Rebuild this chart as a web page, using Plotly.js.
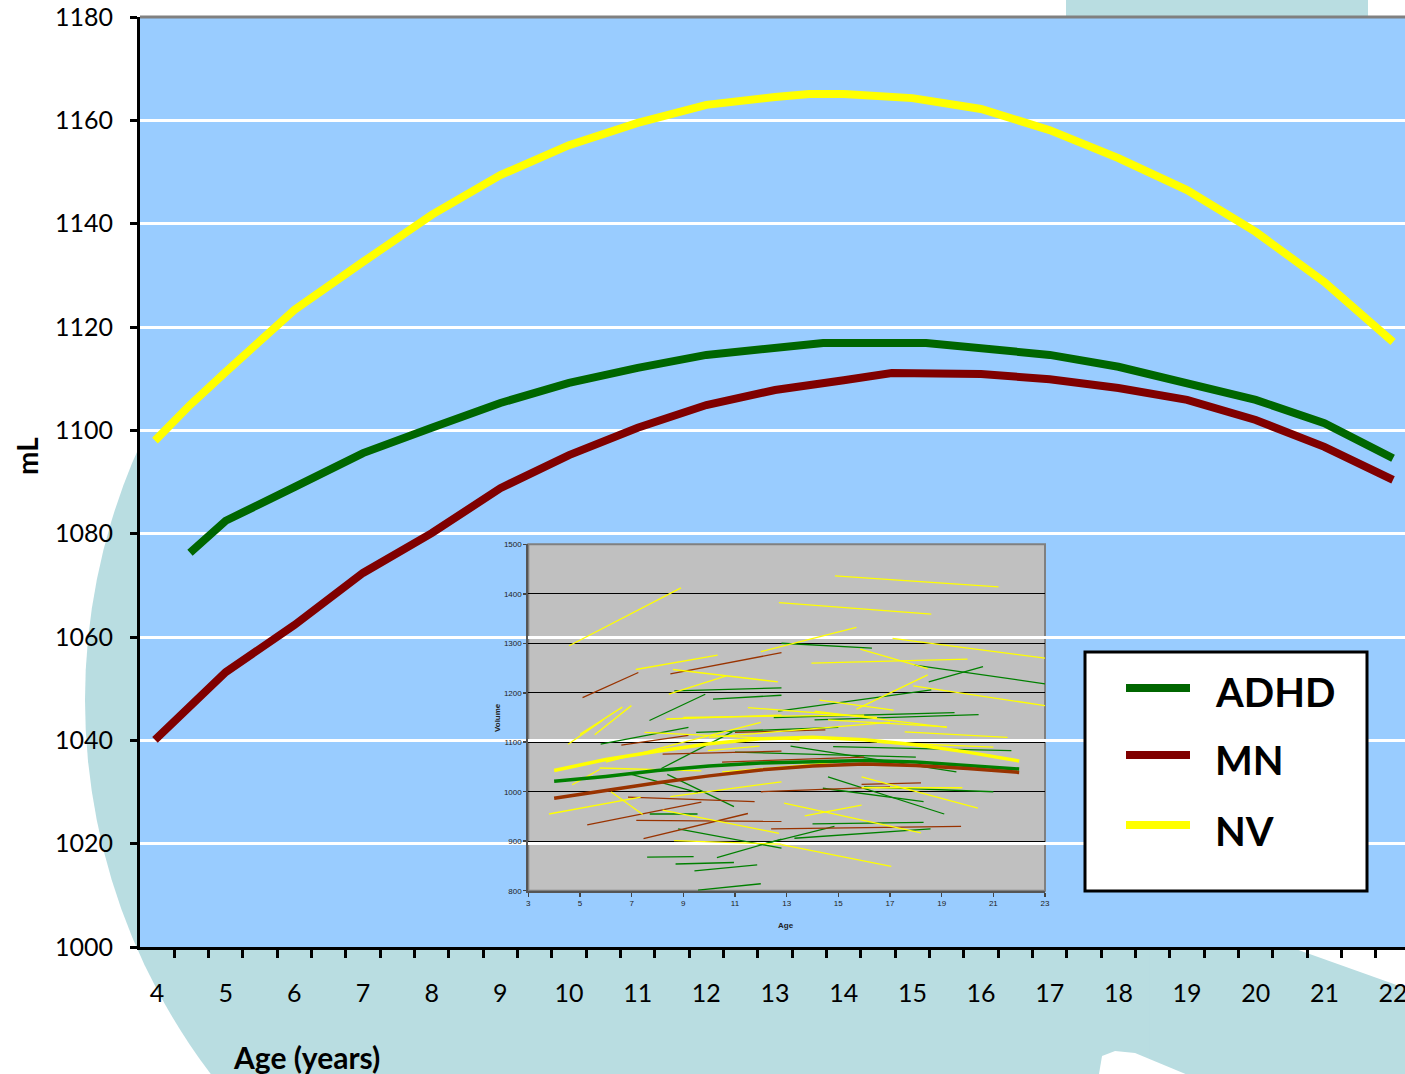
<!DOCTYPE html>
<html><head><meta charset="utf-8">
<script src="https://cdn.plot.ly/plotly-3.0.1.min.js"></script>
<style>html,body{margin:0;padding:0;overflow:hidden;background:#fff}#chart{width:1405px;height:1074px}</style>
</head><body><div id="chart"></div>
<script>
// ---- main chart data (mL by age) ----
const agesNV = [3.97, 4.48, 5, 6, 7, 8, 9, 10, 11, 12, 13, 13.5, 14, 15, 16, 17, 18, 19, 20, 21, 22];
const valsNV = [1098, 1104.9, 1111.3, 1123.3, 1132.6, 1141.7, 1149.4, 1155.2, 1159.5, 1163.0, 1164.5, 1165.1, 1165.1, 1164.3, 1162.2, 1158.1, 1152.7, 1146.5, 1138.4, 1128.7, 1117.1];
const agesADHD = [4.48, 5, 6, 7, 8, 9, 10, 11, 12, 13, 13.7, 15.2, 16, 17, 18, 19, 20, 21, 22];
const valsADHD = [1076.3, 1082.5, 1089.0, 1095.6, 1100.5, 1105.3, 1109.2, 1112.1, 1114.6, 1115.9, 1116.9, 1116.9, 1115.9, 1114.6, 1112.3, 1109.2, 1105.9, 1101.4, 1094.6];
const agesMN = [3.97, 4.48, 5, 6, 7, 8, 9, 10, 11, 12, 13, 14, 14.7, 16, 17, 18, 19, 20, 21, 22];
const valsMN = [1040.1, 1046.5, 1053.2, 1062.3, 1072.4, 1080.1, 1088.8, 1095.2, 1100.5, 1104.9, 1107.8, 1109.7, 1111.1, 1110.9, 1109.9, 1108.2, 1105.9, 1102.0, 1096.8, 1090.4];
const xTickVals = [4,5,6,7,8,9,10,11,12,13,14,15,16,17,18,19,20,21,22];
const yTickVals = [1000,1020,1040,1060,1080,1100,1120,1140,1160,1180];
const legendNames = ['ADHD','MN','NV'];

// ---- inset chart data ----
const insetAges = [4, 6, 8, 10, 12, 14, 16, 18, 20, 22];
const insetNV   = [1043, 1065, 1082, 1097, 1107, 1110, 1105, 1095, 1080, 1062];
const insetADHD = [1021, 1031, 1043, 1052, 1058, 1061, 1063, 1060, 1053, 1046];
const insetMN   = [987, 1003, 1018, 1032, 1044, 1052, 1056, 1053, 1047, 1039];
const segGroup = ['NV','MN','NV','MN','NV','NV','ADHD','ADHD','ADHD','NV','NV','NV','NV','NV','NV','ADHD','NV','ADHD','ADHD','NV','NV','NV','NV','ADHD','ADHD','NV','NV','NV','MN','NV','MN','ADHD','MN','ADHD','ADHD','ADHD','ADHD','ADHD','NV','ADHD','NV','MN','ADHD','ADHD','NV','NV','NV','ADHD','NV','ADHD','MN','MN','NV','ADHD','NV','ADHD','MN','ADHD','NV','NV','ADHD','NV','ADHD','NV','MN','ADHD','ADHD','NV','NV','NV','NV','ADHD','NV','ADHD','MN','NV','ADHD','NV','MN','ADHD','NV','NV','ADHD','MN'];
const segAge0 = [4.58,5.10,7.16,8.50,8.60,8.44,7.69,8.65,10.15,5.0,5.57,8.34,14.87,12.7,12.0,12.8,17.1,17.95,18.5,17.9,15.7,13.96,15.85,12.67,14.08,14.08,14.27,3.8,5.28,6.2,7.46,7.7,7.18,7.6,8.7,9.43,9.57,10.3,8.64,8.8,8.2,6.86,6.99,8.38,5.76,4.7,8.5,8.15,4.54,5.8,6.6,8.2,9.95,12.0,12.8,14.0,12.4,13.3,13.7,12.9,14.6,15.9,14.4,15.9,15.9,13.15,14.8,17.57,14.6,6.0,9.0,9.5,10.0,11.0,10.5,11.5,12.5,7.5,12.0,16.0,10.5,16.5,13.0,11.0];
const segVol0 = [1295,1190,1247,1238,1247,1197,1144,1204,1187,1116,1115,1147,1436,1382,1283,1300,1310,1256,1222,1214,1167,1260,1288,1163,1145,1163,1185,955,933,1000,905,955,942,868,854,840,801,867,901,925,963,989,1035,1035,1048,1014,990,1047,1096,1096,1094,1076,1083,893,893,935,925,906,951,977,1030,1030,1007,1008,1015,1092,1091,1121,1145,1060,1150,1120,1110,1080,1060,1170,1150,1120,1000,1010,1040,1100,1050,1120];
const segAge1 = [8.91,7.26,10.33,12.80,12.66,10.66,9.85,12.8,12.8,6.64,6.99,12.8,21.2,18.6,15.7,16.3,23.0,23.0,20.6,23.0,18.46,20.0,18.46,18.6,20.43,19.2,17.14,7.35,9.7,7.43,11.5,9.55,12.8,9.4,10.96,11.86,12.0,12.8,12.8,12.8,12.7,11.76,9.57,10.96,9.7,5.76,12.8,10.9,5.9,9.2,9.2,12.8,11.95,14.85,17.05,18.3,19.75,18.57,15.9,18.2,19.1,20.4,18.3,19.8,18.2,19.57,21.7,21.55,19.2,12.0,16.0,15.0,17.0,18.0,16.0,16.5,19.5,13.5,17.0,21.0,15.0,21.0,17.5,14.5];
const segVol1 = [1412,1241,1276,1281,1222,1234,1197,1210,1195,1171,1174,1155,1414,1359,1332,1290,1270,1218,1253,1174,1236,1268,1249,1206,1156,1130,1165,989,979,954,956,955,940,869,857,852,814,904,894,886,916,980,998,970,1042,1045,1020,1121,1145,1130,1114,1082,1092,930,849,938,930,925,973,917,955,967,980,1008,1018,1040,1083,1110,1131,1140,1155,1130,1140,1070,1070,1150,1160,1105,1010,1000,1060,1090,1060,1125];
const insetXTicks = [3,5,7,9,11,13,15,17,19,21,23];
const insetYTicks = [800,900,1000,1100,1200,1300,1400,1500];

const COL = {ADHD:'#006600', MN:'#800000', NV:'#FFFF00'};
const ICOL = {ADHD:'#008000', MN:'#993300', NV:'#FFFF00'};

function segTrace(g){
  const x=[], y=[];
  for(let i=0;i<segGroup.length;i++){
    if(segGroup[i]!==g) continue;
    x.push(segAge0[i], segAge1[i], null);
    y.push(segVol0[i], segVol1[i], null);
  }
  return {x, y, xaxis:'x2', yaxis:'y2', type:'scatter', mode:'lines', line:{color:ICOL[g], width:1.3}, showlegend:false, hoverinfo:'skip', connectgaps:false};
}

const traces = [
  segTrace('ADHD'), segTrace('MN'), segTrace('NV'),
  {x:insetAges, y:insetNV, xaxis:'x2', yaxis:'y2', mode:'lines', line:{color:ICOL.NV, width:3.5}, showlegend:false},
  {x:insetAges, y:insetADHD, xaxis:'x2', yaxis:'y2', mode:'lines', line:{color:ICOL.ADHD, width:3.5}, showlegend:false},
  {x:insetAges, y:insetMN, xaxis:'x2', yaxis:'y2', mode:'lines', line:{color:ICOL.MN, width:3.5}, showlegend:false},
  {x:agesNV, y:valsNV, name:'NV', mode:'lines', line:{color:COL.NV, width:8}},
  {x:agesADHD, y:valsADHD, name:'ADHD', mode:'lines', line:{color:COL.ADHD, width:8}},
  {x:agesMN, y:valsMN, name:'MN', mode:'lines', line:{color:COL.MN, width:8}}
];

// pixel -> paper helpers for decoration placement
const L=140, R=1405, T=17, B=947;
const px = v => (v-L)/(R-L);
const py = v => (B-v)/(B-T);
const path = pts => 'M' + pts.map(p => px(p[0]).toFixed(4)+','+py(p[1]).toFixed(4)).join(' L') + ' Z';

const TEAL = '#B9DDE1';
const shapes = [
  {type:'circle', xref:'paper', yref:'paper', x0:px(85), x1:px(1323), y0:py(1319), y1:py(81), fillcolor:TEAL, line:{width:0}, layer:'below'},
  {type:'path', xref:'paper', yref:'paper', path:path([[1150,947],[1290,947],[1405,988],[1410,1080],[1150,1080]]), fillcolor:TEAL, line:{width:0}, layer:'below'},
  {type:'path', xref:'paper', yref:'paper', path:path([[1098,1080],[1102,1056],[1115,1051],[1135,1053],[1200,1080]]), fillcolor:'#FFFFFF', line:{width:0}, layer:'below'},
  {type:'rect', xref:'paper', yref:'paper', x0:px(1066), x1:px(1368), y0:py(20), y1:py(-5), fillcolor:TEAL, line:{width:0}, layer:'below'},
  {type:'rect', xref:'paper', yref:'paper', x0:0, x1:1.01, y0:0, y1:1, fillcolor:'#99CCFF', line:{width:0}, layer:'below'},
  {type:'rect', xref:'x2 domain', yref:'y2 domain', x0:0, x1:1, y0:0, y1:1, fillcolor:'#C0C0C0', line:{color:'#808080', width:2}, layer:'below'},
  {type:'line', xref:'paper', yref:'paper', x0:0, x1:1.01, y0:1, y1:1, line:{color:'#808080', width:3}, layer:'above'},
  // legend box
  {type:'rect', xref:'paper', yref:'paper', x0:px(1085), x1:px(1367), y0:py(891), y1:py(652), fillcolor:'#FFFFFF', line:{color:'#000', width:3}, layer:'above'}
];
const legendRowsY = [688, 755, 825];
const legendTextY = [692, 760, 831];
const annotations = [
  {text:'<b>mL</b>', xref:'paper', yref:'paper', x:px(27), y:py(456), xanchor:'center', yanchor:'middle', textangle:-90, showarrow:false, font:{family:'Lato, sans-serif', size:28, color:'#000'}},
  {text:'<b>Age (years)</b>', xref:'paper', yref:'paper', x:px(306), y:py(1057), xanchor:'center', yanchor:'middle', showarrow:false, font:{family:'Lato, sans-serif', size:30, color:'#000'}},
  {text:'<b>Volume</b>', xref:'paper', yref:'paper', x:px(497), y:py(718), xanchor:'center', yanchor:'middle', textangle:-90, showarrow:false, font:{family:'Liberation Sans, Arial, sans-serif', size:8, color:'#222'}},
  {text:'<b>Age</b>', xref:'paper', yref:'paper', x:px(786), y:py(925), xanchor:'center', yanchor:'middle', showarrow:false, font:{family:'Liberation Sans, Arial, sans-serif', size:8, color:'#222'}}
];
legendNames.forEach((n,i)=>{
  shapes.push({type:'line', xref:'paper', yref:'paper', x0:px(1126), x1:px(1190), y0:py(legendRowsY[i]), y1:py(legendRowsY[i]), line:{color:COL[n], width:8}, layer:'above'});
  annotations.push({text:'<b>'+n+'</b>', xref:'paper', yref:'paper', x:px(1213), y:py(legendTextY[i]), xanchor:'left', yanchor:'middle', showarrow:false, font:{family:'Lato, sans-serif', size:40, color:'#000'}});
});

const layout = {
  width:1405, height:1074,
  margin:{l:L, r:0, t:T, b:1074-B, pad:0},
  paper_bgcolor:'#FFFFFF', plot_bgcolor:'rgba(0,0,0,0)',
  showlegend:false,
  font:{family:'Lato, sans-serif', color:'#000'},
  xaxis:{range:[3.752, 22.174], domain:[0,1], tickmode:'array', tickvals:xTickVals, ticktext:xTickVals.map(String),
    ticks:'', showgrid:false, zeroline:false, showline:true, linecolor:'#000', linewidth:3, ticklabeloverflow:'allow',
    tickfont:{family:'Lato, sans-serif', size:25, color:'#000'}, ticklabelstandoff:22,
    minor:{tickmode:'linear', tick0:3.75, dtick:0.5, ticks:'outside', ticklen:8, tickwidth:3, tickcolor:'#000', showgrid:false}},
  yaxis:{range:[1000,1180], tickmode:'array', tickvals:yTickVals, ticks:'outside', ticklen:7, tickwidth:3, tickcolor:'#000',
    showgrid:true, gridcolor:'#FFFFFF', gridwidth:3, zeroline:false, showline:true, linecolor:'#000', linewidth:3,
    tickfont:{family:'Lato, sans-serif', size:25, color:'#000'}, ticklabelstandoff:12},
  xaxis2:{anchor:'y2', domain:[px(528.3), px(1045)], range:[3,23], tickmode:'array', tickvals:insetXTicks,
    ticks:'outside', ticklen:4, tickwidth:1.5, tickcolor:'#444', showgrid:false, zeroline:false, showline:true, linecolor:'#555', linewidth:2,
    tickfont:{family:'Liberation Sans, Arial, sans-serif', size:8, color:'#222'}},
  yaxis2:{anchor:'x2', domain:[py(890.7), py(544.3)], range:[800,1500], tickmode:'array', tickvals:insetYTicks,
    ticks:'outside', ticklen:3, tickwidth:1.5, tickcolor:'#444', showgrid:true, gridcolor:'#000', gridwidth:1.3, zeroline:false, showline:true, linecolor:'#555', linewidth:2,
    tickfont:{family:'Liberation Sans, Arial, sans-serif', size:8, color:'#222'}},
  shapes, annotations
};
Plotly.newPlot('chart', traces, layout, {staticPlot:true, displayModeBar:false});
</script></body></html>
